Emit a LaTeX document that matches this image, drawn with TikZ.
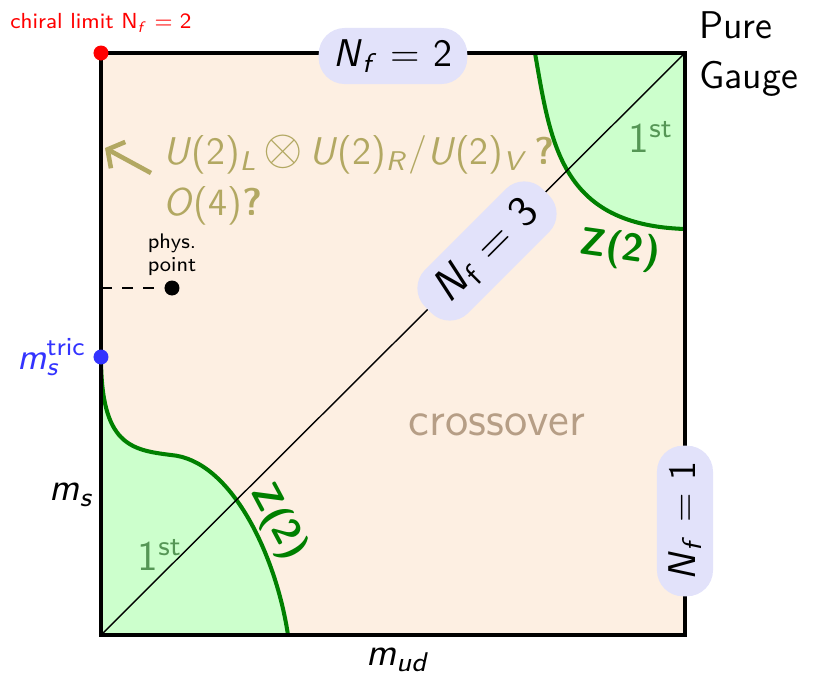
\documentclass[tikz,border=0pt]{standalone}
\usetikzlibrary{arrows.meta,positioning}
\renewcommand{\familydefault}{\sfdefault}
\definecolor{crossfill}{RGB}{253,239,226}
\definecolor{firstfill}{RGB}{204,255,204}
\definecolor{zgreen}{RGB}{0,128,0}
\definecolor{firstgreen}{RGB}{85,150,85}
\definecolor{boxblue}{RGB}{226,226,250}
\definecolor{khaki}{RGB}{178,168,98}
\definecolor{crosstext}{RGB}{182,158,134}
\definecolor{tricblue}{RGB}{51,51,255}
% sans "math" set as text
\newcommand{\iv}[1]{\textit{#1}}
\newcommand{\nflav}[2]{\iv{N}\textsubscript{#1}\,\,=\,\,#2}

\begin{document}
\begin{tikzpicture}[
  nfbox/.style={rounded corners=2.6mm, fill=boxblue, inner xsep=1.5mm,
                minimum height=5.2mm, font=\fontsize{11}{13}\selectfont},
  zlabel/.style={text=zgreen, font=\fontsize{11}{13}\selectfont\bfseries},
  firstlabel/.style={text=firstgreen, font=\fontsize{12}{14}\selectfont},
  axislabel/.style={font=\fontsize{11}{13}\selectfont},
  transline/.style={zgreen, line width=1.15pt},
  border/.style={line width=1.3pt, black},
  pointdot/.style={circle, inner sep=0pt, minimum size=1.5mm},
  symarrow/.style={-{Straight Barb[length=1.2mm,width=3mm]}, line width=1.3pt, khaki}
]
\useasboundingbox (-1.01,-0.51) rectangle (7.29,6.35);

% Columbia plot frame
\coordinate (sw) at (0,0);
\coordinate (ne) at (5.84,5.82);
\fill[crossfill] (sw) rectangle (ne);

% First order regions
\fill[firstfill] (0,2.78) .. controls (0,1.9) and (0.3,1.85) .. (0.7,1.8)
  .. controls (1.3,1.75) and (1.75,0.8) .. (1.87,0) -- (sw) -- cycle;
\fill[firstfill] (4.34,5.82) .. controls (4.5,4.9) and (4.6,4.1) .. (5.84,4.06) -- (ne) -- cycle;
\draw[transline] (0,2.78) .. controls (0,1.9) and (0.3,1.85) .. (0.7,1.8)
  .. controls (1.3,1.75) and (1.75,0.8) .. (1.87,0);
\draw[transline] (4.34,5.82) .. controls (4.5,4.9) and (4.6,4.1) .. (5.84,4.06);

% Diagonal and border
\draw[line width=0.4pt] (sw) -- (ne);
\draw[border] (sw) rectangle (ne);

% Corner points
\node[pointdot, fill=red] (chiral) at (0,5.82) {};
\node[above=0pt of chiral, text=red, font=\fontsize{6.2}{8}\selectfont] (chirallabel) {chiral limit N\textsubscript{\iv{f}}\,\,=\,\,2};
\node[pointdot, fill=tricblue] (tric) at (0,2.78) {};
\node[left=-0.6mm of tric, text=tricblue, font=\fontsize{10.5}{13}\selectfont] (triclabel) {\iv{m}\rlap{\textsubscript{\iv{s}}}\textsuperscript{tric}};

% Physical point
\coordinate (physaxis) at (0,3.47);
\node[pointdot, fill=black] (phys) at (0.71,3.47) {};
\draw[dashed] (physaxis) -- (phys);
\node[above=-0.8mm of phys, align=left, font=\fontsize{6}{6.4}\selectfont] (physlabel) {phys.\\point};

% Symmetry question
\node[anchor=west, align=left, text=khaki, font=\fontsize{11}{14.5}\selectfont] (symm) at (0.50,4.55)
  {\iv{U}(2)\textsubscript{\iv{L}}\,{\fontsize{14}{14}\selectfont$\otimes$}\,\iv{U}(2)\textsubscript{\iv{R}}/\iv{U}(2)\textsubscript{\iv{V}}\,\textbf{?}\\\iv{O}(4)\textbf{?}};
\coordinate (symtip) at (0.04,4.87);
\draw[symarrow] ([yshift=0.7mm]symm.west) -- (symtip);

% Flavour labels
\node[nfbox] (nf2) at (2.92,5.79) {\nflav{\iv{f}}{2}};
\node[nfbox, rotate=45, inner xsep=1.9mm, minimum height=6mm, font=\fontsize{12.5}{14}\selectfont] (nf3) at (3.86,3.84) {\nflav{f}{3}};
\node[nfbox, rotate=90, inner xsep=1.6mm, minimum height=5.6mm] (nf1) at (5.84,1.14) {\nflav{\iv{f}}{1}};

% Transition labels
\node[zlabel, rotate=-8] (z2top) at (5.19,3.85) {Z(2)};
\node[zlabel, rotate=-62] (z2bot) at (1.77,1.13) {Z(2)};
\node[firstlabel] (firsttop) at (5.50,4.98) {1\textsuperscript{st}};
\node[firstlabel] (firstbot) at (0.59,0.80) {1\textsuperscript{st}};
\node[text=crosstext, font=\fontsize{13.5}{16}\selectfont] (cross) at (3.96,2.10) {crossover};

% Axes and corner
\node[anchor=west, align=left, font=\fontsize{11}{14}\selectfont] (pure) at (5.86,5.81) {Pure\\Gauge};
\node[axislabel] (ms) at (-0.29,1.40) {\iv{m}\textsubscript{\iv{s}}};
\node[axislabel] (mud) at (2.97,-0.25) {\iv{m}\textsubscript{\iv{ud}}};

\end{tikzpicture}
\end{document}
